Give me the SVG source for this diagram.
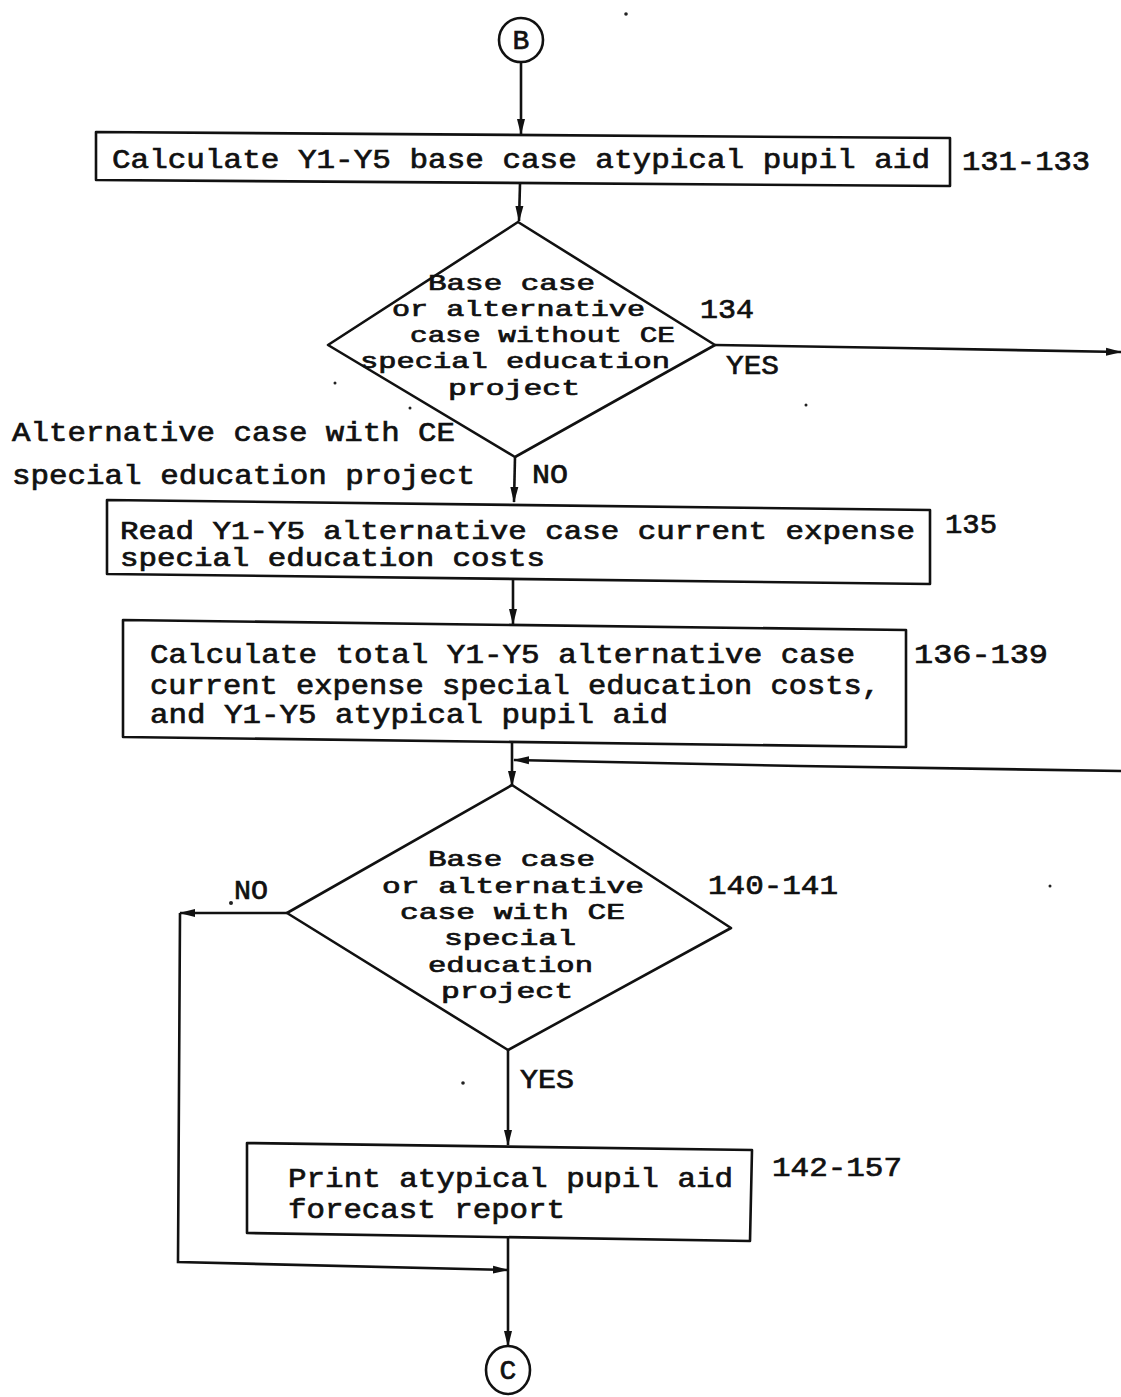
<svg xmlns="http://www.w3.org/2000/svg" width="1121" height="1397" viewBox="0 0 1121 1397">
  <style>
    .shape { fill: none; stroke: #111; stroke-width: 2.6; stroke-linejoin: round; }
    .wire { fill: none; stroke: #111; stroke-width: 2.6; }
    .t { font-family: "Liberation Mono", "DejaVu Sans Mono", monospace; font-size: 28px; fill: #111; stroke: #111; stroke-width: 0.7; }
    .s { font-size: 25px; }
    .d { font-family: "Liberation Mono", "DejaVu Sans Mono", monospace; font-size: 22px; fill: #111; stroke: #111; stroke-width: 0.7; }
    .speck { fill: #222; }
  </style>
  <defs>
    <marker id="arrow" viewBox="0 0 16 10" refX="15" refY="5" markerWidth="16" markerHeight="10" markerUnits="userSpaceOnUse" orient="auto">
      <path d="M0,1 L16,5 L0,9 Z" fill="#111"/>
    </marker>
  </defs>
  <rect width="1121" height="1397" fill="#fff"/>

  <!-- connectors -->
  <g id="connectors">
    <line class="wire" x1="521" y1="62" x2="521" y2="134" marker-end="url(#arrow)"/>
    <line class="wire" x1="520" y1="184" x2="519" y2="221" marker-end="url(#arrow)"/>
    <polyline class="wire" points="715,345 900,348 1121,352" marker-end="url(#arrow)"/>
    <line class="wire" x1="515" y1="457" x2="514" y2="502" marker-end="url(#arrow)"/>
    <line class="wire" x1="513" y1="580" x2="513" y2="624" marker-end="url(#arrow)"/>
    <line class="wire" x1="512" y1="743" x2="512" y2="786" marker-end="url(#arrow)"/>
    <polyline class="wire" points="1121,771 800,766 514,760" marker-end="url(#arrow)"/>
    <line class="wire" x1="287" y1="913" x2="180" y2="913" marker-end="url(#arrow)"/>
    <polyline class="wire" points="180,913 178,1262 508,1270" marker-end="url(#arrow)"/>
    <line class="wire" x1="508" y1="1050" x2="508" y2="1145" marker-end="url(#arrow)"/>
    <line class="wire" x1="508" y1="1238" x2="508" y2="1346" marker-end="url(#arrow)"/>
  </g>

  <!-- connector B -->
  <g id="node-b">
    <circle class="shape" cx="521" cy="40" r="22"/>
    <text class="t" x="521" y="49" text-anchor="middle" font-size="24">B</text>
  </g>

  <!-- step 131-133 -->
  <g id="node-131">
    <polygon class="shape" points="96,132 950,138 950,186 96,180"/>
    <text class="t" x="112" y="168" font-size="30" textLength="818" lengthAdjust="spacingAndGlyphs">Calculate Y1-Y5 base case atypical pupil aid</text>
    <text class="t" x="962" y="170" font-size="30" textLength="128" lengthAdjust="spacingAndGlyphs">131-133</text>
  </g>

  <!-- decision 134 -->
  <g id="node-134">
    <polygon class="shape" points="518,222 715,345 515,457 328,345"/>
    <text class="d" x="428" y="290" textLength="167" lengthAdjust="spacingAndGlyphs">Base case</text>
    <text class="d" x="392" y="316" textLength="253" lengthAdjust="spacingAndGlyphs">or alternative</text>
    <text class="d" x="410" y="342" textLength="265" lengthAdjust="spacingAndGlyphs">case without CE</text>
    <text class="d" x="360" y="368" textLength="310" lengthAdjust="spacingAndGlyphs">special education</text>
    <text class="d" x="448" y="395" textLength="132" lengthAdjust="spacingAndGlyphs">project</text>
    <text class="t" x="700" y="318" textLength="54" lengthAdjust="spacingAndGlyphs">134</text>
    <text class="t" x="726" y="374" textLength="53" lengthAdjust="spacingAndGlyphs">YES</text>
    <text class="t" x="12" y="441" textLength="443" lengthAdjust="spacingAndGlyphs">Alternative case with CE</text>
    <text class="t" x="12" y="484" textLength="463" lengthAdjust="spacingAndGlyphs">special education project</text>
    <text class="t" x="532" y="483" textLength="36" lengthAdjust="spacingAndGlyphs">NO</text>
  </g>

  <!-- step 135 -->
  <g id="node-135">
    <polygon class="shape" points="107,500 930,510 930,584 107,574"/>
    <text class="t s" x="120" y="539" textLength="795" lengthAdjust="spacingAndGlyphs">Read Y1-Y5 alternative case current expense</text>
    <text class="t s" x="120" y="566" textLength="425" lengthAdjust="spacingAndGlyphs">special education costs</text>
    <text class="t" x="945" y="533" textLength="52" lengthAdjust="spacingAndGlyphs">135</text>
  </g>

  <!-- step 136-139 -->
  <g id="node-136">
    <polygon class="shape" points="123,620 906,630 906,747 123,737"/>
    <text class="t" x="150" y="663" textLength="705" lengthAdjust="spacingAndGlyphs">Calculate total Y1-Y5 alternative case</text>
    <text class="t" x="150" y="694" textLength="730" lengthAdjust="spacingAndGlyphs">current expense special education costs,</text>
    <text class="t" x="150" y="723" textLength="518" lengthAdjust="spacingAndGlyphs">and Y1-Y5 atypical pupil aid</text>
    <text class="t" x="914" y="663" textLength="134" lengthAdjust="spacingAndGlyphs">136-139</text>
  </g>

  <!-- decision 140-141 -->
  <g id="node-140">
    <polygon class="shape" points="512,785 731,928 508,1050 287,913"/>
    <text class="d" x="428" y="866" textLength="167" lengthAdjust="spacingAndGlyphs">Base case</text>
    <text class="d" x="382" y="893" textLength="262" lengthAdjust="spacingAndGlyphs">or alternative</text>
    <text class="d" x="400" y="919" textLength="225" lengthAdjust="spacingAndGlyphs">case with CE</text>
    <text class="d" x="444" y="945" textLength="132" lengthAdjust="spacingAndGlyphs">special</text>
    <text class="d" x="428" y="972" textLength="165" lengthAdjust="spacingAndGlyphs">education</text>
    <text class="d" x="441" y="998" textLength="132" lengthAdjust="spacingAndGlyphs">project</text>
    <text class="t" x="708" y="894" textLength="130" lengthAdjust="spacingAndGlyphs">140-141</text>
    <text class="t" x="234" y="899" textLength="34" lengthAdjust="spacingAndGlyphs">NO</text>
    <circle class="speck" cx="231" cy="903" r="2"/>
    <text class="t" x="520" y="1088" textLength="54" lengthAdjust="spacingAndGlyphs">YES</text>
  </g>

  <!-- step 142-157 -->
  <g id="node-142">
    <polygon class="shape" points="247,1143 752,1150 750,1241 247,1233"/>
    <text class="t" x="288" y="1187" textLength="445" lengthAdjust="spacingAndGlyphs">Print atypical pupil aid</text>
    <text class="t" x="288" y="1218" textLength="277" lengthAdjust="spacingAndGlyphs">forecast report</text>
    <text class="t" x="772" y="1176" textLength="130" lengthAdjust="spacingAndGlyphs">142-157</text>
  </g>

  <!-- connector C -->
  <g id="node-c">
    <ellipse class="shape" cx="508" cy="1370" rx="22" ry="24"/>
    <text class="t" x="508" y="1379" text-anchor="middle" font-size="24">C</text>
  </g>

  <!-- loose specks on the sheet -->
  <g id="specks">
    <circle class="speck" cx="626" cy="14" r="1.8"/>
    <circle class="speck" cx="335" cy="383" r="1.5"/>
    <circle class="speck" cx="410" cy="408" r="1.5"/>
    <circle class="speck" cx="806" cy="405" r="1.5"/>
    <circle class="speck" cx="1050" cy="886" r="1.5"/>
    <circle class="speck" cx="463" cy="1083" r="1.8"/>
  </g>
</svg>
